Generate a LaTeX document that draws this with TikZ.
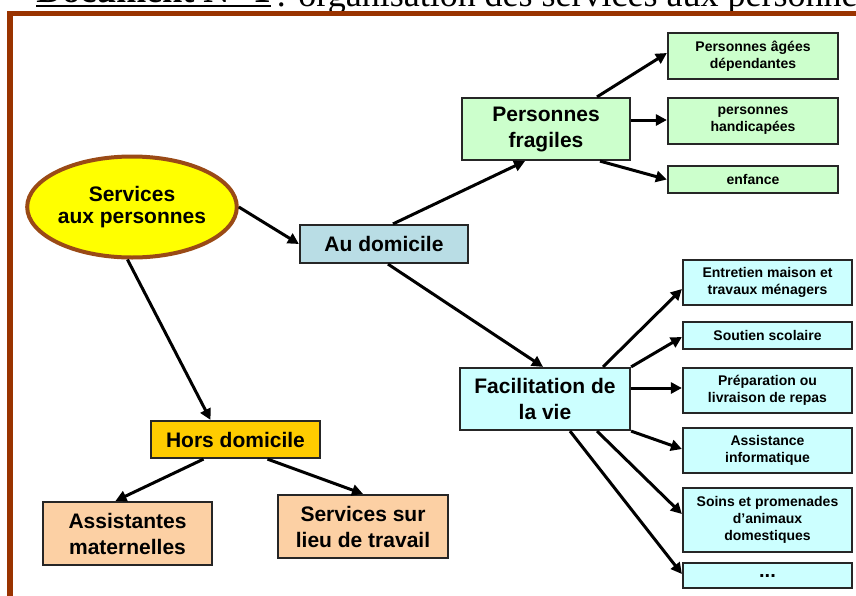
\documentclass[tikz,border=0pt]{standalone}
\usepackage{fontspec}
\setmainfont{Liberation Sans}
\newfontfamily\titlefont{Liberation Serif}
\usepackage{tikz}
\usetikzlibrary{
  	positioning,
  	arrows.meta,
  	calc,
  	shapes.geometric
  }
\definecolor{framebrown}{HTML}{993300}
\definecolor{ellborder}{HTML}{9A4A16}
\definecolor{ellfill}{HTML}{FFFF00}
\definecolor{domfill}{HTML}{B9DDE5}
\definecolor{greenfill}{HTML}{CCFFCC}
\definecolor{cyanfill}{HTML}{CCFFFF}
\definecolor{horsfill}{HTML}{FFCC00}
\definecolor{peachfill}{HTML}{FCD0A4}
\tikzstyle{box}=[draw=black!85,line width=1.1pt,align=center,inner sep=0pt,
  font=\bfseries\fontsize{10.5}{13}\selectfont]
\tikzstyle{leaf}=[box,font=\bfseries\fontsize{7}{8.5}\selectfont]
\tikzstyle{greenleaf}=[leaf,fill=greenfill,minimum width=85pt]
\tikzstyle{cyanleaf}=[leaf,fill=cyanfill,minimum width=84.5pt]
\tikzstyle{link}=[line width=1.5pt,-{Triangle[length=5.5pt,width=5.5pt]}]

\begin{document}
\begin{tikzpicture}[x=0.5pt,y=-0.5pt]
  \useasboundingbox (0,0) rectangle (856,595);
  \clip (0,0) rectangle (856,595);
  \fill[white] (0,0) rectangle (856,595);
  % title and frame
  \node[anchor=base west,inner sep=0pt,font=\titlefont\bfseries\fontsize{18}{20}\selectfont] (doc) at (36,2) {Document N° 1};
  \draw[line width=1pt] ($(doc.base west)+(0,3.5)$) -- ($(doc.base east)+(0,3.5)$);
  \node[anchor=base west,inner sep=0pt,font=\titlefont\fontsize{18}{20}\selectfont] (ttl) at (276,6) {: organisation des services aux personnes};
  \draw[framebrown,line width=2.9pt] (10,640) -- (10,13.5) -- (900,13.5);
%
  \node[ellipse,draw=ellborder,line width=2pt,fill=ellfill,inner sep=0pt,
    minimum width=97.5pt,minimum height=50.5pt,align=center,
    font=\bfseries\fontsize{10.5}{11}\selectfont] (ell) at (132,207) {Services\\aux personnes};
  \node[box,fill=domfill,minimum width=84pt,minimum height=19pt] (audom) at (384,244) {Au domicile};
  \node[box,fill=greenfill,minimum width=84pt,minimum height=31pt] (pf) at (546,129) {Personnes\\fragiles};
  \node[box,fill=cyanfill,minimum width=85pt,minimum height=31pt] (fac) at (545,399) {Facilitation de\\la vie};
  \node[box,fill=horsfill,minimum width=84.5pt,minimum height=18.5pt] (hors) at (235.5,439.5) {Hors domicile};
  \node[box,fill=peachfill,minimum width=84.5pt,minimum height=31.5pt] (am) at (127.5,533.5) {Assistantes\\maternelles};
  \node[box,fill=peachfill,minimum width=85pt,minimum height=31.5pt] (slt) at (363,526.5) {Services sur\\lieu de travail};
%
  \node[greenleaf,minimum height=23pt] (g1) at (753,56) {Personnes âgées\\dépendantes};
  \node[greenleaf,minimum height=23pt] (g2) at (753,121) {personnes\\handicapées};
  \node[greenleaf,minimum height=13.5pt] (g3) at (753,179.5) {enfance};
%
  \node[cyanleaf,minimum height=22.5pt] (c1) at (767.5,282.5) {Entretien maison et\\travaux ménagers};
  \node[cyanleaf,minimum height=13.5pt] (c2) at (767.5,335.5) {Soutien scolaire};
  \node[cyanleaf,minimum height=22.5pt] (c3) at (767.5,390.5) {Préparation ou\\livraison de repas};
  \node[cyanleaf,minimum height=22.5pt] (c4) at (767.5,450.5) {Assistance\\informatique};
  \node[cyanleaf,minimum height=32pt] (c5) at (767.5,520) {Soins et promenades\\d'animaux\\domestiques};
  \node[cyanleaf,minimum height=12.5pt,font=\bfseries\fontsize{10}{10}\selectfont] (c6) at (767.5,575.5) {...};
%
  \draw[link] (ell.east) -- (audom.west);
  \draw[link] (ell.-95) -- ($(hors.north)+(-25,0)$);
  \draw[link] ($(audom.north)+(9,0)$) -- ($(pf.south)+(-21,0)$);
  \draw[link] ($(audom.south)+(4,0)$) -- ($(fac.north)+(-2,0)$);
  \draw[link] ($(pf.north)+(51,0)$) -- ($(g1.west)+(0,-3)$);
  \draw[link] ($(pf.east)+(0,-9)$) -- ($(g2.west)+(0,-1)$);
  \draw[link] ($(pf.south)+(54,0)$) -- (g3.west);
  \draw[link] ($(fac.north)+(58,0)$) -- ($(c1.west)+(0,6.5)$);
  \draw[link] (fac.north east) -- ($(c2.west)+(0,1.5)$);
  \draw[link] ($(fac.east)+(0,-11)$) -- ($(c3.west)+(0,-2.5)$);
  \draw[link] (fac.south east) -- ($(c4.west)+(0,-1.5)$);
  \draw[link] ($(fac.south)+(52,0)$) -- ($(c5.west)+(0,-6)$);
  \draw[link] ($(fac.south)+(25,0)$) -- ($(c6.west)+(0,-1.5)$);
  \draw[link] ($(hors.south)+(-32,0)$) -- ($(am.north)+(-12,0)$);
  \draw[link] ($(hors.south)+(32,0)$) -- (slt.north);
\end{tikzpicture}
\end{document}
